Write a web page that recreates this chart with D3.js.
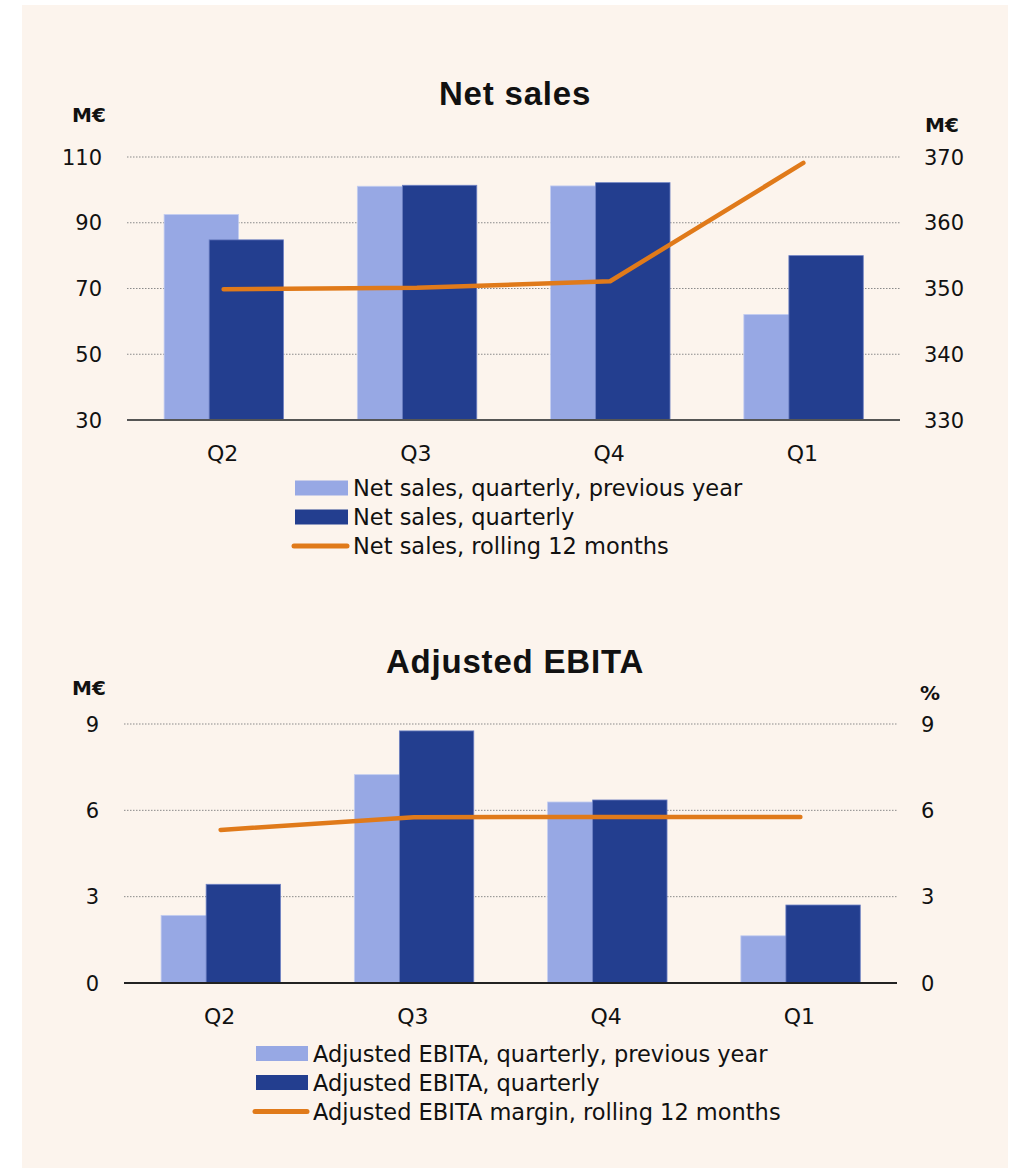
<!DOCTYPE html>
<html>
<head>
<meta charset="utf-8">
<script src="https://cdn.jsdelivr.net/npm/d3@7"></script>
<style>
  body { margin: 0; background: #fff; }
  svg text { font-family: "DejaVu Sans", sans-serif; fill: #111; }
  svg text.title { font-family: "Liberation Sans", Arial, sans-serif; }
</style>
</head>
<body>
<script>
// data
var quarters = ["Q2", "Q3", "Q4", "Q1"];

var salesPrev = [92.5, 101.1, 101.2, 62.1];
var salesCur = [84.8, 101.4, 102.2, 80.0];
var salesRolling = [349.9, 350.1, 351.1, 369.1];
var salesLeftTicks = [30, 50, 70, 90, 110];
var salesRightTicks = [330, 340, 350, 360, 370];

var ebitaPrev = [2.35, 7.24, 6.29, 1.64];
var ebitaCur = [3.43, 8.76, 6.36, 2.71];
var ebitaMargin = [5.32, 5.76, 5.77, 5.77];
var ebitaLeftTicks = [0, 3, 6, 9];
var ebitaRightTicks = [0, 3, 6, 9];

var salesLegend = ["Net sales, quarterly, previous year", "Net sales, quarterly", "Net sales, rolling 12 months"];
var ebitaLegend = ["Adjusted EBITA, quarterly, previous year", "Adjusted EBITA, quarterly", "Adjusted EBITA margin, rolling 12 months"];

var w = 1010, h = 1170;
var lightBlue = "#97a8e4", darkBlue = "#233e8f", orange = "#e07a1a";

var svg = d3.select("body").append("svg")
    .attr("width", w)
    .attr("height", h);

// cream panel
svg.append("rect")
    .attr("x", 22).attr("y", 5)
    .attr("width", 986).attr("height", 1163)
    .attr("fill", "#fcf4ed");

function drawChart(c) {
    var g = svg.append("g");

    var x = d3.scaleBand().domain(quarters).range([c.x0, c.x1]);
    var yL = d3.scaleLinear().domain(c.leftDomain).range([c.yBottom, c.yTop]);
    var yR = d3.scaleLinear().domain(c.rightDomain).range([c.yBottom, c.yTop]);
    var bw = x.bandwidth();
    var barW = bw * 0.385;
    var cx = function(q) { return x(q) + bw / 2; };

    // title
    g.append("text")
        .attr("class", "title")
        .attr("x", 515).attr("y", c.titleY)
        .attr("text-anchor", "middle")
        .style("font-size", "33px").style("font-weight", "bold")
        .style("letter-spacing", "0.8px")
        .text(c.title);

    g.append("text")
        .attr("x", 72).attr("y", c.unitY)
        .style("font-size", "20px").style("font-weight", "bold")
        .text("M€");
    g.append("text")
        .attr("x", c.rightUnitX).attr("y", c.rightUnitY)
        .style("font-size", "20px").style("font-weight", "bold")
        .text(c.rightUnit);

    // gridlines
    g.selectAll(".grid")
        .data(c.leftTicks.slice(1))
        .enter().append("line")
        .attr("x1", c.x0).attr("x2", c.x1)
        .attr("y1", function(d) { return yL(d); })
        .attr("y2", function(d) { return yL(d); })
        .attr("stroke", "#8a8a8a")
        .attr("stroke-width", 1)
        .attr("stroke-dasharray", "1.5,1.5");

    // left ticks
    g.selectAll(".lt")
        .data(c.leftTicks)
        .enter().append("text")
        .attr("x", c.x0 - 25)
        .attr("y", function(d) { return yL(d); })
        .attr("dy", "0.36em")
        .attr("text-anchor", "end")
        .style("font-size", "21px")
        .text(function(d) { return d; });

    // right ticks
    g.selectAll(".rt")
        .data(c.rightTicks)
        .enter().append("text")
        .attr("x", c.x1 + 24)
        .attr("y", function(d) { return yR(d); })
        .attr("dy", "0.36em")
        .style("font-size", "21px")
        .text(function(d) { return d; });

    // bars, previous year
    g.selectAll(".prev")
        .data(quarters)
        .enter().append("rect")
        .attr("x", function(q) { return cx(q) - bw * 0.308; })
        .attr("y", function(q, i) { return yL(c.prev[i]); })
        .attr("width", barW)
        .attr("height", function(q, i) { return c.yBottom - yL(c.prev[i]); })
        .attr("fill", lightBlue)
        .attr("stroke", "#c3cdf0").attr("stroke-width", 0.8);

    // bars, current
    g.selectAll(".cur")
        .data(quarters)
        .enter().append("rect")
        .attr("x", function(q) { return cx(q) - bw * 0.075; })
        .attr("y", function(q, i) { return yL(c.cur[i]); })
        .attr("width", barW)
        .attr("height", function(q, i) { return c.yBottom - yL(c.cur[i]); })
        .attr("fill", darkBlue)
        .attr("stroke", "#6f82c4").attr("stroke-width", 0.8);

    // baseline
    g.append("line")
        .attr("x1", c.x0).attr("x2", c.x1)
        .attr("y1", c.yBottom).attr("y2", c.yBottom)
        .attr("stroke", c.baseColor)
        .attr("stroke-width", 2);

    // rolling line
    var line = d3.line()
        .x(function(d, i) { return cx(quarters[i]); })
        .y(function(d) { return yR(d); });
    g.append("path")
        .datum(c.line)
        .attr("d", line)
        .attr("fill", "none")
        .attr("stroke", orange)
        .attr("stroke-width", 4.5)
        .attr("stroke-linecap", "round")
        .attr("stroke-linejoin", "round");

    // category labels
    g.selectAll(".cat")
        .data(quarters)
        .enter().append("text")
        .attr("x", function(q) { return cx(q) - 1; })
        .attr("y", c.yBottom + 33)
        .attr("dy", "0.36em")
        .attr("text-anchor", "middle")
        .style("font-size", "22px")
        .text(function(d) { return d; });

    // legend
    var lg = g.append("g");
    var rowY = [c.legendY, c.legendY + 29, c.legendY + 58];
    lg.append("rect")
        .attr("x", c.legendX - c.swatchW).attr("y", rowY[0] - 7.5)
        .attr("width", c.swatchW).attr("height", 15)
        .attr("fill", lightBlue);
    lg.append("rect")
        .attr("x", c.legendX - c.swatchW).attr("y", rowY[1] - 7.5)
        .attr("width", c.swatchW).attr("height", 15)
        .attr("fill", darkBlue);
    lg.append("line")
        .attr("x1", c.legendX - c.swatchW - 1).attr("x2", c.legendX - 1)
        .attr("y1", rowY[2]).attr("y2", rowY[2])
        .attr("stroke", orange).attr("stroke-width", 5)
        .attr("stroke-linecap", "round");
    lg.selectAll("text")
        .data(c.legend)
        .enter().append("text")
        .attr("x", c.legendX + 5)
        .attr("y", function(d, i) { return rowY[i]; })
        .attr("dy", "0.36em")
        .style("font-size", "22.5px")
        .text(function(d) { return d; });
}

drawChart({
    title: "Net sales", titleY: 105,
    unitY: 122, rightUnit: "M€", rightUnitX: 925, rightUnitY: 132,
    x0: 127, x1: 900, yTop: 157, yBottom: 420,
    leftDomain: [30, 110], rightDomain: [330, 370],
    leftTicks: salesLeftTicks, rightTicks: salesRightTicks,
    prev: salesPrev, cur: salesCur, line: salesRolling,
    baseColor: "#555",
    legend: salesLegend, legendX: 348, legendY: 488, swatchW: 53
});

drawChart({
    title: "Adjusted EBITA", titleY: 673,
    unitY: 695, rightUnit: "%", rightUnitX: 920, rightUnitY: 700,
    x0: 124, x1: 897, yTop: 724, yBottom: 983,
    leftDomain: [0, 9], rightDomain: [0, 9],
    leftTicks: ebitaLeftTicks, rightTicks: ebitaRightTicks,
    prev: ebitaPrev, cur: ebitaCur, line: ebitaMargin,
    baseColor: "#222",
    legend: ebitaLegend, legendX: 308, legendY: 1053.5, swatchW: 52
});
</script>
</body>
</html>
